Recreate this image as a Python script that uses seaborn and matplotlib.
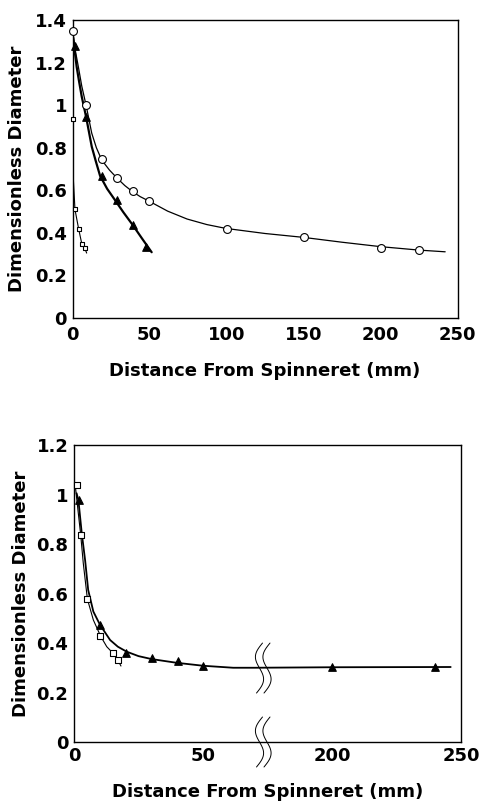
import numpy as np
import pandas as pd
import matplotlib
matplotlib.use("Agg")
import matplotlib.pyplot as plt
import seaborn as sns

# ---------------- data: top panel ----------------
top_circle_x = [0.5, 9, 19, 29, 39, 49.5, 100, 150, 200, 225]
top_circle_y = [1.35, 1.0, 0.745, 0.66, 0.597, 0.55, 0.42, 0.379, 0.327, 0.32]
top_circle_curve_x = [0.5, 2, 3.8, 6, 8.8, 12.5, 15.5, 19, 24, 29.1, 34, 39.1, 44, 49.2,
                      61.8, 74.4, 87.2, 99.5, 125, 149.7, 175, 200.3, 225, 242]
top_circle_curve_y = [1.33, 1.25, 1.18, 1.09, 1.0, 0.868, 0.80, 0.742, 0.695, 0.656, 0.622, 0.593, 0.57, 0.551,
                      0.502, 0.465, 0.439, 0.421, 0.397, 0.379, 0.356, 0.335, 0.319, 0.311]

top_tri_x = [1.3, 9, 19, 29, 39, 47.7]
top_tri_y = [1.28, 0.945, 0.668, 0.554, 0.437, 0.335]
top_tri_curve_x = [0.3, 1.5, 2.7, 4.3, 6.0, 8.8, 12.5, 15, 17.9, 22.5, 27.6, 33, 39.1, 45, 51.4]
top_tri_curve_y = [1.32, 1.25, 1.18, 1.11, 1.04, 0.946, 0.805, 0.74, 0.668, 0.607, 0.554, 0.497, 0.437, 0.375, 0.309]

top_sq_x = [0.0, 1.6, 4.0, 6.0, 8.1]
top_sq_y = [0.933, 0.51, 0.418, 0.348, 0.327]
top_sq_curve_x = [0.2, 1.6, 4.0, 6.0, 8.1, 9.2]
top_sq_curve_y = [0.70, 0.51, 0.418, 0.35, 0.325, 0.305]

top_xticks = [0, 50, 100, 150, 200, 250]
top_yticks = [0, 0.2, 0.4, 0.6, 0.8, 1.0, 1.2, 1.4]
top_ylabels = ["0", "0.2", "0.4", "0.6", "0.8", "1", "1.2", "1.4"]

# ---------------- data: bottom panel ----------------
bot_sq_x = [1.0, 2.6, 5.2, 10.1, 15.2, 17.2]
bot_sq_y = [1.04, 0.836, 0.577, 0.43, 0.36, 0.33]
bot_sq_curve_x = [0.4, 2.6, 3.6, 5.2, 7.5, 10.3, 12.7, 15.2, 17.2, 18.2]
bot_sq_curve_y = [1.045, 0.836, 0.722, 0.577, 0.493, 0.428, 0.385, 0.358, 0.327, 0.307]

bot_tri_x = [1.9, 10.1, 20.2, 30.2, 40.2, 50.1, 200, 240]
bot_tri_y = [0.978, 0.473, 0.361, 0.338, 0.327, 0.307, 0.304, 0.304]
bot_tri_curve_x = [1.0, 1.7, 3.0, 4.3, 5.5, 7.5, 10.1, 14, 17, 20.4, 25, 30.1, 39.8, 50.1, 61.7, 70, 200, 246]
bot_tri_curve_y = [1.005, 0.978, 0.844, 0.735, 0.614, 0.527, 0.473, 0.412, 0.385, 0.365, 0.347, 0.335, 0.32, 0.308, 0.30, 0.30, 0.302, 0.303]

bot_xticks = [0, 50, 200, 250]
bot_xlabels = ["0", "50", "200", "250"]
bot_yticks = [0, 0.2, 0.4, 0.6, 0.8, 1.0, 1.2]
bot_ylabels = ["0", "0.2", "0.4", "0.6", "0.8", "1", "1.2"]

xlabel = "Distance From Spinneret (mm)"
ylabel = "Dimensionless Diameter"

# ---------------- style ----------------
sns.set_style("white")
plt.rcParams["font.family"] = ["DejaVu Sans"]
plt.rcParams["font.weight"] = "bold"
plt.rcParams["axes.linewidth"] = 1.0
plt.rcParams["axes.edgecolor"] = "black"
plt.rcParams["text.color"] = "black"
plt.rcParams["axes.labelcolor"] = "black"

fig = plt.figure(figsize=(4.79, 8.05), dpi=100)
ax1 = fig.add_axes([72.5 / 479, 1 - 318 / 805, 385 / 479, 298 / 805])
ax2 = fig.add_axes([74 / 479, 1 - 742 / 805, 387 / 479, 297 / 805])

def curve(ax, xs, ys, lw):
    df = pd.DataFrame({"x": xs, "y": ys})
    sns.lineplot(data=df, x="x", y="y", ax=ax, color="black", lw=lw,
                 estimator=None, sort=False, legend=False)

def points(ax, xs, ys, marker, size, filled):
    df = pd.DataFrame({"x": xs, "y": ys})
    sns.scatterplot(data=df, x="x", y="y", ax=ax, marker=marker, s=size,
                    color="black" if filled else "white",
                    edgecolor="black", linewidth=0.8, legend=False,
                    zorder=5, clip_on=False)

# ---- top panel ----
curve(ax1, top_circle_curve_x, top_circle_curve_y, 0.9)
curve(ax1, top_tri_curve_x, top_tri_curve_y, 1.6)
curve(ax1, top_sq_curve_x, top_sq_curve_y, 0.8)
points(ax1, top_circle_x, top_circle_y, "o", 32, False)
points(ax1, top_tri_x, top_tri_y, "^", 30, True)
points(ax1, top_sq_x, top_sq_y, "s", 12, False)

ax1.set_xlim(0, 250)
ax1.set_ylim(0, 1.4)
ax1.set_xticks(top_xticks)
ax1.set_xticklabels([str(t) for t in top_xticks])
ax1.set_yticks(top_yticks)
ax1.set_yticklabels(top_ylabels)

# ---- bottom panel (broken x axis: 75..175 compressed) ----
def fwd(x):
    return np.interp(x, [-100, 74.9, 175.1, 400], [-100, 74.9, 75.1, 300])

def inv(t):
    return np.interp(t, [-100, 74.9, 75.1, 300], [-100, 74.9, 175.1, 400])

ax2.set_xscale("function", functions=(fwd, inv))
curve(ax2, bot_sq_curve_x, bot_sq_curve_y, 0.8)
curve(ax2, bot_tri_curve_x, bot_tri_curve_y, 1.3)
points(ax2, bot_sq_x, bot_sq_y, "s", 14, False)
points(ax2, bot_tri_x, bot_tri_y, "^", 30, True)

ax2.set_xlim(0, 250)
ax2.set_ylim(0, 1.2)
ax2.set_xticks(bot_xticks)
ax2.set_xticklabels(bot_xlabels)
ax2.set_yticks(bot_yticks)
ax2.set_yticklabels(bot_ylabels)

# break marks
t = np.linspace(0, 1, 60)
W, H = 387.0, 297.0
for yc in (0.249, 0.0):
    for xc_px in (259.5, 267.0):
        xs = (xc_px - 74 + 3.0 * (1 - 2 * t) - 5.5 * np.sin(2 * np.pi * t)) / W
        ys = yc + (25 - 50 * t) / H
        ax2.plot(xs, ys, transform=ax2.transAxes, color="black", lw=0.7,
                 clip_on=False, zorder=6)

for ax, lab_y, ylab_x in ((ax1, -0.148, -0.12), (ax2, -0.138, -0.114)):
    ax.tick_params(axis="both", direction="in", length=3, width=0.8,
                   labelsize=13, colors="black")
    ax.tick_params(axis="y", pad=4)
    ax.set_xlabel(xlabel, fontsize=13, fontweight="bold", color="black")
    ax.set_ylabel(ylabel, fontsize=13, fontweight="bold", color="black")
    ax.xaxis.set_label_coords(0.5, lab_y)
    ax.yaxis.set_label_coords(ylab_x, 0.5)
    for s in ax.spines.values():
        s.set_visible(True)
        s.set_color("black")
        s.set_linewidth(1.0)
    for lbl in ax.get_xticklabels() + ax.get_yticklabels():
        lbl.set_fontweight("bold")
        lbl.set_color("black")

ax1.tick_params(axis="x", pad=6)
ax2.tick_params(axis="x", pad=3.5)

fig.savefig("out.png", dpi=100, facecolor="white")
